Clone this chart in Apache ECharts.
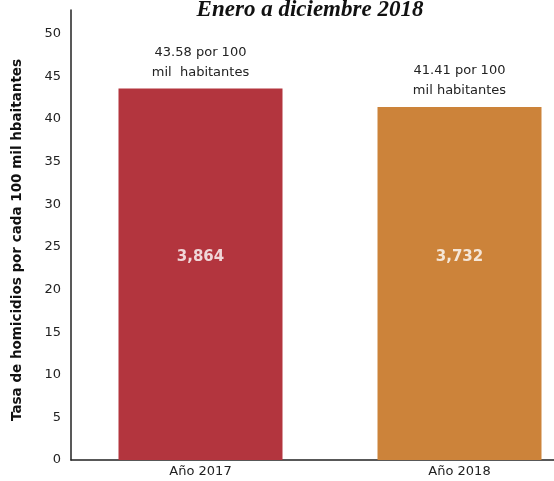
<!DOCTYPE html>
<html>
<head>
<meta charset="utf-8">
<script src="https://cdn.jsdelivr.net/npm/echarts@6/dist/echarts.min.js"></script>
<style>
html,body{margin:0;padding:0;background:#fff;}
#chart{width:554px;height:481px;}
</style>
</head>
<body>
<div id="chart"></div>
<script>
// datos
var categories = ['Año 2017', 'Año 2018'];
var tasas = [43.58, 41.41];
var homicidios = [3864, 3732];
var etiquetas = ['43.58 por 100\nmil  habitantes', '41.41 por 100\nmil habitantes'];
var colores = ['#B3353E', '#CC833A'];
var yTicks = [0, 5, 10, 15, 20, 25, 30, 35, 40, 45, 50];

var FONT = '"DejaVu Sans", Verdana, sans-serif';
var LABEL_Y = 23.8; // altura donde va el numero de homicidios

var chart = echarts.init(document.getElementById('chart'));

var barData = [];
for (var i = 0; i < tasas.length; i++) {
	barData.push({
		value: tasas[i],
		itemStyle: {color: colores[i]},
		label: {formatter: etiquetas[i]}
	});
}
var countData = [];
for (var j = 0; j < homicidios.length; j++) {
	countData.push({value: [categories[j], LABEL_Y], cuenta: homicidios[j]});
}

chart.setOption({
	animation: false,
	title: {
		text: 'Enero a diciembre 2018',
		left: 305,
		top: -6,
		textAlign: 'center',
		textStyle: {
			fontFamily: '"Liberation Serif", serif',
			fontStyle: 'italic',
			fontWeight: 'bold',
			fontSize: 23,
			color: '#111'
		}
	},
	grid: {left: 71, top: 10, width: 518, height: 450, outerBoundsMode: 'none', containLabel: false},
	xAxis: {
		type: 'category',
		data: categories,
		axisLine: {lineStyle: {color: '#222', width: 1.5}},
		axisTick: {show: false},
		axisLabel: {color: '#222', fontFamily: FONT, fontSize: 13, margin: 5}
	},
	yAxis: {
		type: 'value',
		min: 0,
		max: 52.8,
		interval: 5,
		name: 'Tasa de homicidios por cada 100 mil hbaitantes',
		nameLocation: 'middle',
		nameGap: 47,
		nameTextStyle: {
			color: '#111',
			fontFamily: FONT,
			fontWeight: 'bold',
			fontSize: 13.5,
			padding: [0, 0, 0, -10]
		},
		axisLine: {show: true, lineStyle: {color: '#222', width: 1.5}},
		axisTick: {show: false},
		splitLine: {show: false},
		axisLabel: {
			color: '#222',
			fontFamily: FONT,
			fontSize: 13,
			margin: 10,
			showMaxLabel: false,
			formatter: function (v) {
				return yTicks.indexOf(v) >= 0 ? String(v) : '';
			}
		}
	},
	series: [{
		type: 'bar',
		data: barData,
		barWidth: 164,
		label: {
			show: true,
			position: 'top',
			distance: 6,
			color: '#222',
			fontFamily: FONT,
			fontSize: 13,
			lineHeight: 20,
			align: 'center'
		}
	}, {
		type: 'scatter',
		data: countData,
		symbolSize: 0,
		silent: true,
		label: {
			show: true,
			position: 'inside',
			color: '#fff',
			textBorderWidth: 0,
			fontFamily: FONT,
			fontWeight: 'bold',
			fontSize: 15,
			formatter: function (p) {
				return p.data.cuenta.toLocaleString('en-US');
			}
		}
	}]
});
</script>
</body>
</html>
